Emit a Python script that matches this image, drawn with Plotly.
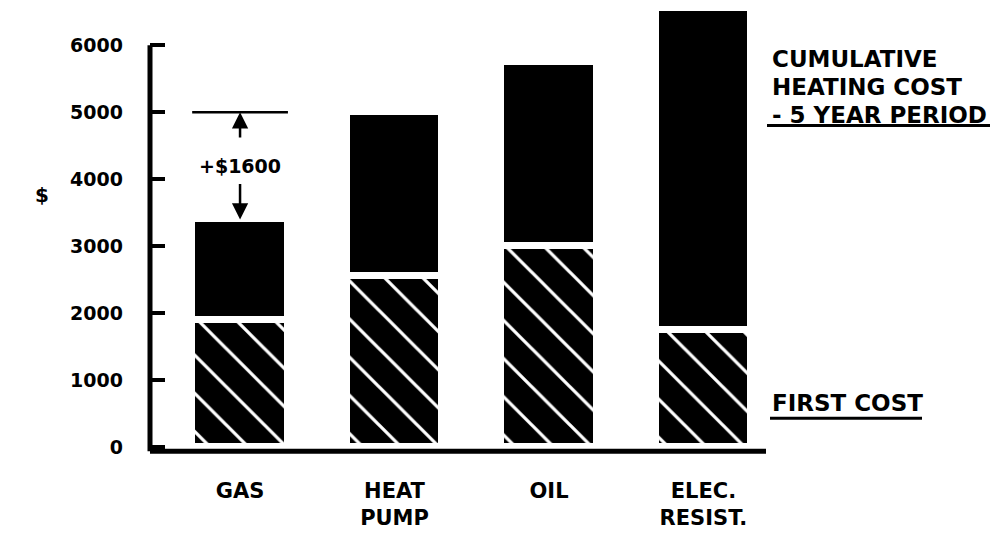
import plotly.graph_objects as go

# ---- data ----
categories = ["GAS", "HEAT<br>PUMP", "OIL", "ELEC.<br>RESIST."]
first_cost = [1900, 2550, 3000, 1750]
cumulative_total = [3400, 5000, 5750, 6550]
y_tick_values = [0, 1000, 2000, 3000, 4000, 5000, 6000]
y_tick_labels = ["0", "1000", "2000", "3000", "4000", "5000", "6000"]

heating_cost = [t - f for t, f in zip(cumulative_total, first_cost)]
xpos = list(range(len(categories)))

# ---- layout helpers (pixel -> paper) ----
W, H = 996, 535
ML, MR, MT, MB = 150, 230, 5, 79
PW, PH = W - ML - MR, H - MT - MB


def px_x(p):
    return (p - ML) / PW


def px_y(p):
    return (H - MB - p) / PH


FONT = "DejaVu Sans"
BAR_W = 0.62

fig = go.Figure()
fig.add_trace(go.Bar(
    x=xpos, y=first_cost, width=BAR_W, name="FIRST COST",
    marker=dict(
        color="black",
        pattern=dict(shape="\\", size=27, solidity=0.12, fgcolor="white",
                     bgcolor="black", fgopacity=1, fillmode="replace"),
        line=dict(color="white", width=7),
    ),
    hoverinfo="skip",
))
fig.add_trace(go.Bar(
    x=xpos, y=heating_cost, width=BAR_W, name="HEATING",
    marker=dict(color="black", line=dict(color="white", width=7)),
    hoverinfo="skip",
))

shapes = [
    # bottom axis line
    dict(type="line", xref="paper", yref="y", x0=0, x1=1, y0=-60, y1=-60,
         line=dict(color="black", width=5)),
    # left axis line
    dict(type="line", xref="paper", yref="y", x0=0, x1=0, y0=-60,
         y1=y_tick_values[-1], line=dict(color="black", width=5)),
    # reference line at heat pump total above gas bar
    dict(type="line", xref="x", yref="y", x0=xpos[0] - BAR_W / 2,
         x1=xpos[0] + BAR_W / 2, y0=cumulative_total[1], y1=cumulative_total[1],
         line=dict(color="black", width=2.5)),
    # underlines for right labels
    dict(type="line", xref="paper", yref="paper", x0=px_x(767), x1=px_x(990),
         y0=px_y(126), y1=px_y(126), line=dict(color="black", width=3)),
    dict(type="line", xref="paper", yref="paper", x0=px_x(770), x1=px_x(922),
         y0=px_y(420), y1=px_y(420), line=dict(color="black", width=3)),
]

diff = cumulative_total[1] - cumulative_total[0]
bold = lambda s: dict(family=FONT, size=s, color="black", weight="bold")

annotations = [
    # up arrow to the 5000 line
    dict(x=xpos[0], y=cumulative_total[1], ax=xpos[0], ay=cumulative_total[1] - 400,
         xref="x", yref="y", axref="x", ayref="y", text="", showarrow=True,
         arrowhead=2, arrowsize=1.3, arrowwidth=2.5, arrowcolor="black", standoff=0),
    # down arrow to the gas bar
    dict(x=xpos[0], y=cumulative_total[0], ax=xpos[0], ay=cumulative_total[0] + 550,
         xref="x", yref="y", axref="x", ayref="y", text="", showarrow=True,
         arrowhead=2, arrowsize=1.3, arrowwidth=2.5, arrowcolor="black", standoff=0),
    dict(x=xpos[0], y=(cumulative_total[0] + cumulative_total[1]) / 2,
         xref="x", yref="y", text="+$" + str(diff), showarrow=False,
         font=bold(19), xanchor="center", yanchor="middle"),
    # y axis title
    dict(x=px_x(42), y=px_y(196), xref="paper", yref="paper", text="$",
         showarrow=False, font=bold(20), xanchor="center", yanchor="middle"),
    # right labels
    dict(x=px_x(770), y=px_y(59), xref="paper", yref="paper", text="CUMULATIVE",
         showarrow=False, font=bold(23), xanchor="left", yanchor="middle"),
    dict(x=px_x(770), y=px_y(87), xref="paper", yref="paper", text="HEATING COST",
         showarrow=False, font=bold(23), xanchor="left", yanchor="middle"),
    dict(x=px_x(770), y=px_y(115), xref="paper", yref="paper", text="- 5 YEAR PERIOD",
         showarrow=False, font=bold(23), xanchor="left", yanchor="middle"),
    dict(x=px_x(770), y=px_y(405), xref="paper", yref="paper", text="FIRST COST",
         showarrow=False, font=bold(23), xanchor="left", yanchor="middle"),
]

fig.update_layout(
    width=W, height=H,
    margin=dict(l=ML, r=MR, t=MT, b=MB, pad=0),
    paper_bgcolor="white", plot_bgcolor="white",
    barmode="stack", bargap=0, showlegend=False,
    shapes=shapes, annotations=annotations,
    xaxis=dict(range=[-0.583, 3.405], tickvals=xpos, ticktext=categories,
               showgrid=False, zeroline=False, showline=False, ticks="",
               tickfont=bold(21), ticklabelstandoff=22, fixedrange=True),
    yaxis=dict(range=[-100, 6600], tickvals=y_tick_values, ticktext=y_tick_labels,
               showgrid=False, zeroline=False, showline=False,
               ticks="inside", ticklen=15, tickwidth=4, tickcolor="black",
               tickfont=bold(19), ticklabelstandoff=26, fixedrange=True),
)

fig.write_html(
    "out.html",
    config={"displayModeBar": False},
    post_script="document.body.style.margin='0';document.body.style.overflow='hidden';",
)
